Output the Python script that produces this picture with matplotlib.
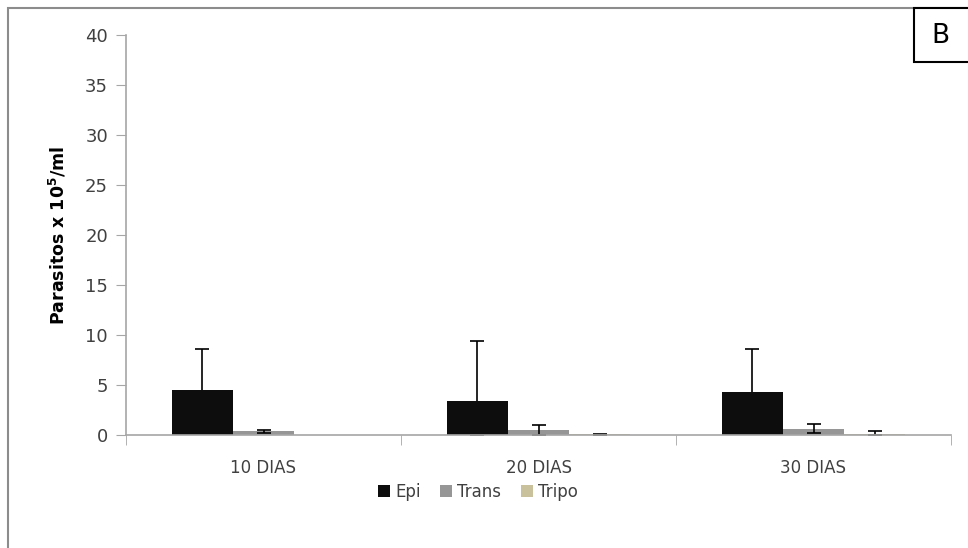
import numpy as np
import matplotlib
matplotlib.use("Agg")
import matplotlib.pyplot as plt
from matplotlib.patches import Rectangle

# Parasite counts per stage (x 10^5/ml), mean and error, by days
categories = ["10 DIAS", "20 DIAS", "30 DIAS"]
series = ["Epi", "Trans", "Tripo"]
epi = [4.5, 3.4, 4.35]
epi_err = [4.1, 6.0, 4.25]
trans = [0.4, 0.5, 0.65]
trans_err = [0.15, 0.55, 0.45]
tripo = [0.0, 0.1, 0.15]
tripo_err = [0.0, 0.05, 0.3]
colors = ["#0d0d0d", "#969696", "#c9c19b"]

plt.rcParams["font.family"] = ["DejaVu Sans"]
TXT = "#404040"
AX = "#a6a6a6"

fig = plt.figure(figsize=(9.68, 5.48), dpi=100)
ax = fig.add_axes([126 / 968, 113 / 548, 825 / 968, 400 / 548])

x = np.arange(len(categories))
w = 1 / 4.5
vals = [epi, trans, tripo]
errs = [epi_err, trans_err, tripo_err]
for i, (name, v, e, c) in enumerate(zip(series, vals, errs, colors)):
    pos = x - w + i * w
    ax.bar(pos, v, w, color=c, label=name, zorder=2)
    v = np.array(v)
    e = np.array(e)
    keep = e > 0
    lower = np.minimum(e, v)[keep]
    # the lower half of the tall black bars' error bars stays hidden behind the bar
    z = 1 if i == 0 else 3
    ax.errorbar(pos[keep], v[keep], yerr=[lower, e[keep]], fmt="none",
                ecolor="black", elinewidth=1.2, capsize=5, capthick=1.2, zorder=z)

ax.set_xlim(-0.5, len(categories) - 0.5)
ax.set_ylim(0, 40)
ax.set_yticks(np.arange(0, 41, 5))
ax.set_xticks(x)
ax.set_xticklabels(categories)
ax.set_xticks(np.arange(-0.5, len(categories), 1), minor=True)
ax.tick_params(axis="x", which="major", length=0, pad=17, labelsize=12, labelcolor=TXT)
ax.tick_params(axis="x", which="minor", length=7, color=AX, direction="out")
ax.tick_params(axis="y", length=7, color=AX, labelsize=13, labelcolor=TXT, pad=6)
for s in ["top", "right"]:
    ax.spines[s].set_visible(False)
for s in ["left", "bottom"]:
    ax.spines[s].set_color(AX)
    ax.spines[s].set_linewidth(1.2)
    ax.spines[s].set_zorder(4)

ax.set_ylabel(r"Parasitos x 10$^{\mathbf{5}}$/ml", fontsize=12.5, fontweight="bold",
              color="black", labelpad=12)

fig.legend(loc="center", bbox_to_anchor=(478 / 968, (548 - 492) / 548), ncol=3,
           frameon=False, fontsize=12, labelcolor=TXT, handlelength=0.7,
           handleheight=0.7, handletextpad=0.3, columnspacing=1.2)

# outer chart frame and panel letter box
fig.patches.append(Rectangle((8 / 968, -0.05), 1.2, (548 - 8) / 548 + 0.05,
                             transform=fig.transFigure, fill=False,
                             edgecolor="#8c8c8c", linewidth=1.5))
fig.patches.append(Rectangle((914 / 968, (548 - 62) / 548), 0.1, 54 / 548,
                             transform=fig.transFigure, facecolor="white",
                             edgecolor="black", linewidth=1.5, zorder=5))
fig.text(940 / 968, (548 - 36) / 548, "B", fontsize=19, ha="center", va="center",
         color="black", zorder=6)

fig.savefig("out.png", dpi=100)
